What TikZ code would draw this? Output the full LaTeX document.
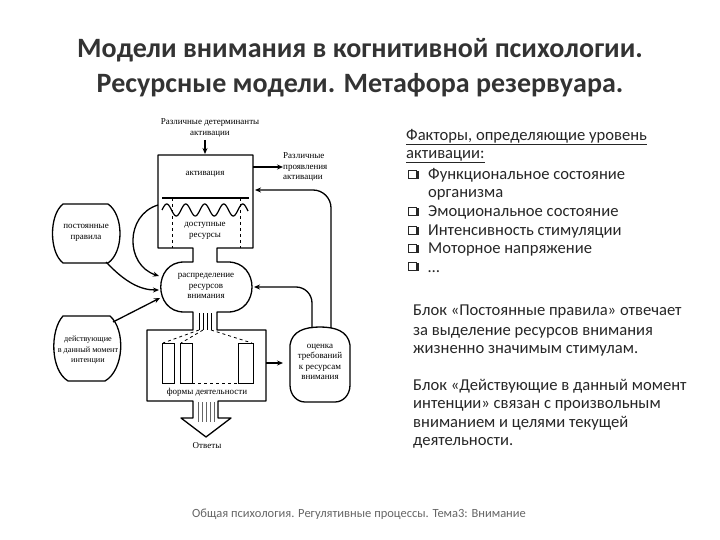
\documentclass[tikz,border=0pt]{standalone}
\usepackage{fontspec}
\setmainfont{Carlito}
\newfontfamily\scanfont{Liberation Serif}
\usetikzlibrary{arrows.meta}

\tikzset{
  outline/.style={line width=1.3pt,line join=round},
  arr/.style={line width=1.3pt,-{Stealth[length=6pt,width=5pt]}},
  scan/.style={font=\scanfont\fontsize{9}{10.5}\selectfont,align=center,inner sep=0pt},
  slide/.style={font=\fontsize{16.6}{19}\selectfont,anchor=base west,inner sep=0pt,text=black!85},
}

\begin{document}
\begin{tikzpicture}[x=1pt,y=-1pt]
    \useasboundingbox (0,0) rectangle (720,540);

    \node[font=\bfseries\fontsize{28}{35}\selectfont,text=black!80,align=center] (title) at (360,68) {Модели внимания в когнитивной психологии.\\Ресурсные модели. Метафора резервуара.};

    % reservoir
    \draw[outline] (193,248) -- (158,248) -- (158,155) -- (253,155) -- (253,248) -- (217,248) -- (217,262) -- (228,262)
        .. controls (260,262) and (260,312) .. (228,312) -- (217,312) -- (217,330) -- (266,330) -- (266,401) -- (218,401)
        -- (218,418) -- (231,418) -- (206,437) -- (181,418) -- (193,418) -- (193,401) -- (147,401) -- (147,330) -- (193,330)
        -- (193,312) -- (184,312) .. controls (153,312) and (153,262) .. (184,262) -- (193,262) -- cycle;
    \draw[outline] (162,198) -- (249,198);
    \draw[line width=1.2pt,domain=0:86,samples=120,smooth,variable=\t] plot ({162+\t},{210-6*sin(18.95*\t)});
    \draw[dashed,line width=0.9pt] (172,198) -- (172,248);
    \draw[dashed,line width=0.9pt] (240,198) -- (240,248);
    \foreach \x in {199,203,207,211}
        \draw[line width=0.6pt] (\x,313) -- (\x,330);
    \draw[dashed,line width=0.8pt] (199,330) -- (163,343);
    \draw[dashed,line width=0.8pt] (203,330) -- (181,343);
    \draw[dashed,line width=0.8pt] (211,330) -- (252,343);
    \draw[line width=1pt] (162,343) rectangle (174,383);
    \draw[line width=1pt] (180,343) rectangle (192,383);
    \draw[line width=1pt] (238,343) rectangle (253,383);
    \draw[dashed,line width=0.8pt] (192,383) -- (238,383);
    \foreach \x in {198,202,206,210,214}
        \draw[line width=0.5pt,black!60] (\x,402) -- (\x,422);

    \node[scan] (act) at (205,174) {активация};
    \node[scan] (res) at (205,231) {доступные\\ресурсы};
    \node[scan] (distr) at (206,286) {распределение\\ресурсов\\внимания};
    \node[scan] (forms) at (207,392) {формы деятельности};
    \node[scan] (answ) at (207,446) {Ответы};
    \node[scan] (determ) at (210,128) {Различные детерминанты\\активации};
    \node[scan,align=left,anchor=west] (manif) at (283,167) {Различные\\проявления\\активации};

    % side blocks
    \draw[outline] (63,204) -- (108,204) .. controls (124,215) and (124,252) .. (108,263) -- (63,263)
        .. controls (49,252) and (49,215) .. (63,204) -- cycle;
    \node[scan] (rules) at (86,233) {постоянные\\правила};
    \draw[outline] (63,316) -- (110,316) .. controls (126,330) and (124,370) .. (105,381) -- (68,381)
        .. controls (50,370) and (50,330) .. (63,316) -- cycle;
    \node[scan,font=\scanfont\fontsize{8.2}{10.5}\selectfont] (intent) at (88,350) {действующие\\в данный момент\\интенции};
    \draw[outline] (290,385) -- (290,345) .. controls (292,331) and (305,327) .. (320,327)
        .. controls (335,327) and (348,331) .. (350,345) -- (350,385) .. controls (350,395) and (343,402) .. (335,402)
        -- (305,402) .. controls (297,402) and (290,395) .. (290,385) -- cycle;
    \node[scan] (eval) at (320,362) {оценка\\требований\\к ресурсам\\внимания};

    % connectors
    \coordinate (determB) at (205,140);
    \coordinate (boxT) at (205,154);
    \coordinate (boxR) at (253,167);
    \coordinate (boxL) at (158,205);
    \coordinate (boxRlow) at (255,190);
    \coordinate (distrL) at (159,276);
    \coordinate (distrLmid) at (159,290);
    \coordinate (distrLlow) at (160,298);
    \coordinate (distrR) at (254,287);
    \coordinate (rulesC) at (106,262);
    \coordinate (intentC) at (113,322);
    \coordinate (lowR) at (266,363);
    \coordinate (evalL) at (283,363);
    \coordinate (evalT1) at (312,328);
    \coordinate (evalT2) at (331,328);

    \draw[arr] (determB) -- (boxT);
    \draw[arr] (boxR) -- (manif.west);
    \draw[arr] (boxL) .. controls (125,215) and (125,265) .. (distrL);
    \draw[arr] (rulesC) .. controls (125,282) and (140,290) .. (distrLmid);
    \draw[arr] (intentC) -- (distrLlow);
    \draw[arr] (lowR) -- (evalL);
    \draw[arr,rounded corners=16pt] (evalT1) |- (distrR);
    \draw[arr,rounded corners=18pt] (evalT2) |- (boxRlow);

    % text at right
    \node[slide] (f1) at (406,141) {Факторы, определяющие уровень};
    \node[slide] (f2) at (406,159) {активации:};
    \draw[line width=0.8pt,black!85] ([yshift=-3pt]f1.base west) -- ([yshift=-3pt]f1.base east);
    \draw[line width=0.8pt,black!85] ([yshift=-3pt]f2.base west) -- ([yshift=-3pt]f2.base east);
    \node[slide] (i1) at (428,180) {Функциональное состояние};
    \node[slide] (i1b) at (428,198) {организма};
    \node[slide] (i2) at (428,217) {Эмоциональное состояние};
    \node[slide] (i3) at (428,236) {Интенсивность стимуляции};
    \node[slide] (i4) at (428,254) {Моторное напряжение};
    \node[slide] (i5) at (428,272) {…};
    \foreach \y in {180,217,236,254,272} {
        \draw[line width=0.7pt,black!85] (408.5,\y-10) rectangle (416.5,\y-2);
        \draw[line width=1.4pt,black!85] (409.5,\y-1.3) -- (417.8,\y-1.3) -- (417.8,\y-9);
    }
    \node[slide] (p1) at (413,315) {Блок «Постоянные правила» отвечает};
    \node[slide] (p2) at (413,335) {за выделение ресурсов внимания};
    \node[slide] (p3) at (413,353) {жизненно значимым стимулам.};
    \node[slide] (q1) at (413,390) {Блок «Действующие в данный момент};
    \node[slide] (q2) at (413,408) {интенции» связан с произвольным};
    \node[slide] (q3) at (413,427) {вниманием и целями текущей};
    \node[slide] (q4) at (413,445) {деятельности.};

    \node[font=\fontsize{12.5}{14}\selectfont,text=black!60] (foot) at (359,514) {Общая психология. Регулятивные процессы. Тема3: Внимание};
\end{tikzpicture}
\end{document}
